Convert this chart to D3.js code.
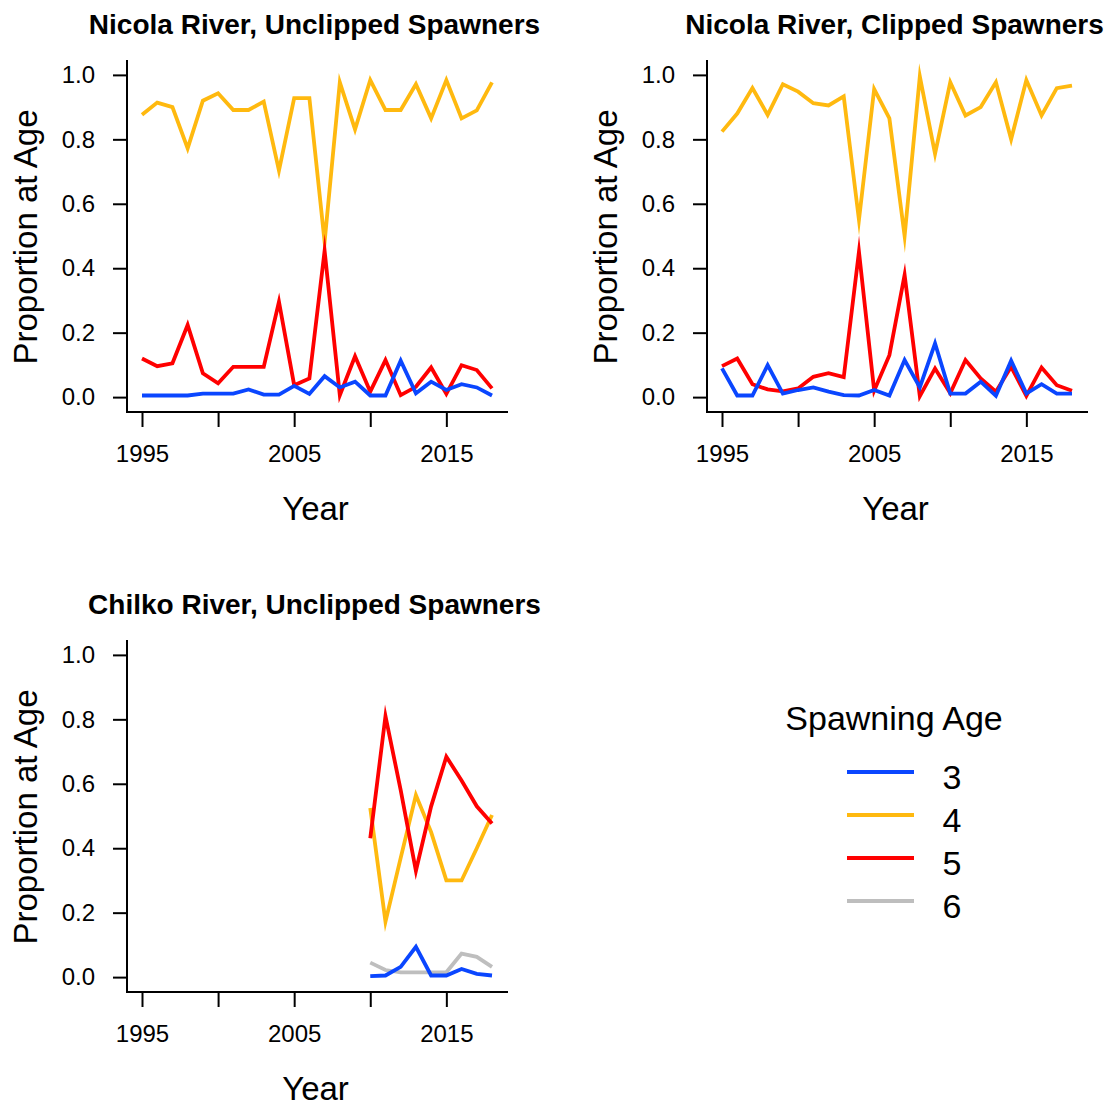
<!DOCTYPE html>
<html>
<head>
<meta charset="utf-8">
<script src="https://cdn.jsdelivr.net/npm/d3@7/dist/d3.min.js"></script>
<style>
  html, body { margin: 0; padding: 0; background: #ffffff; }
  svg { display: block; }
  text { font-family: "Liberation Sans", Arial, Helvetica, sans-serif; fill: #000; }
</style>
</head>
<body>
<svg id="chart" width="1112" height="1107"></svg>
<script>
// Nicola River, 1995–2018
const nicolaYears = d3.range(1995, 2019);
const nicolaUnclipped3 = [0.005,0.005,0.005,0.005,0.011,0.011,0.011,0.024,0.008,0.008,0.035,0.010,0.065,0.030,0.048,0.005,0.005,0.113,0.012,0.048,0.022,0.040,0.030,0.005];
const nicolaUnclipped4 = [0.876,0.914,0.900,0.772,0.920,0.943,0.891,0.891,0.917,0.703,0.928,0.928,0.482,0.977,0.831,0.984,0.891,0.891,0.971,0.865,0.984,0.865,0.890,0.977];
const nicolaUnclipped5 = [0.120,0.096,0.105,0.224,0.074,0.043,0.094,0.094,0.094,0.296,0.037,0.058,0.454,0.006,0.127,0.017,0.115,0.006,0.032,0.092,0.010,0.099,0.084,0.027];

const nicolaClipped3 = [0.089,0.005,0.005,0.099,0.011,0.022,0.030,0.017,0.006,0.005,0.022,0.005,0.115,0.030,0.167,0.011,0.011,0.048,0.004,0.113,0.011,0.040,0.011,0.011];
const nicolaClipped4 = [0.824,0.880,0.959,0.876,0.971,0.948,0.912,0.905,0.933,0.550,0.956,0.865,0.500,0.995,0.755,0.977,0.874,0.900,0.977,0.800,0.984,0.874,0.959,0.967];
const nicolaClipped5 = [0.096,0.120,0.040,0.024,0.018,0.027,0.063,0.074,0.062,0.451,0.020,0.130,0.379,0.003,0.089,0.012,0.115,0.058,0.017,0.094,0.004,0.092,0.037,0.020];

// Chilko River, 2010–2018
const chilkoYears = d3.range(2010, 2019);
const chilkoUnclipped3 = [0.003,0.005,0.032,0.094,0.005,0.005,0.025,0.010,0.005];
const chilkoUnclipped4 = [0.525,0.172,0.370,0.565,0.450,0.300,0.300,0.400,0.503];
const chilkoUnclipped5 = [0.431,0.810,0.580,0.330,0.530,0.684,0.610,0.530,0.477];
const chilkoUnclipped6 = [0.045,0.022,0.015,0.015,0.015,0.015,0.073,0.063,0.032];

const ages = ["3", "4", "5", "6"];
const ageColors = { "3": "#0a46ff", "4": "#ffb90f", "5": "#ff0000", "6": "#bebebe" };

const yTicks = [0, 0.2, 0.4, 0.6, 0.8, 1.0];
const xTicks = [1995, 2000, 2005, 2010, 2015];
const xTickLabels = { 1995: "1995", 2005: "2005", 2015: "2015" };

const panels = [
  { title: "Nicola River, Unclipped Spawners", dx: 0, dy: 0, years: nicolaYears,
    series: { "3": nicolaUnclipped3, "4": nicolaUnclipped4, "5": nicolaUnclipped5 } },
  { title: "Nicola River, Clipped Spawners", dx: 580, dy: 0, years: nicolaYears,
    series: { "3": nicolaClipped3, "4": nicolaClipped4, "5": nicolaClipped5 } },
  { title: "Chilko River, Unclipped Spawners", dx: 0, dy: 580, years: chilkoYears,
    series: { "3": chilkoUnclipped3, "4": chilkoUnclipped4, "5": chilkoUnclipped5, "6": chilkoUnclipped6 } }
];

const svg = d3.select("#chart");

// plot region (R-style 4% padding on both axes)
const plotLeft = 127, plotRight = 506, plotTop = 60, plotBottom = 412;
const x = d3.scaleLinear().domain([1995 - 0.92, 2018 + 0.92]).range([plotLeft + 1, plotRight]);
const y = d3.scaleLinear().domain([-0.04, 1.04]).range([plotBottom - 2, plotTop + 2]);

panels.forEach(p => {
  const g = svg.append("g").attr("transform", `translate(${p.dx},${p.dy})`);

  // data lines (age 3 drawn last so it sits on top)
  const order = ["6", "4", "5", "3"].filter(a => p.series[a]);
  const line = d3.line().x(d => x(d[0])).y(d => y(d[1]));
  order.forEach(a => {
    const pts = p.years.map((yr, i) => [yr, p.series[a][i]]);
    g.append("path")
      .datum(pts)
      .attr("d", line)
      .attr("fill", "none")
      .attr("stroke", ageColors[a])
      .attr("stroke-width", 3.8)
      .attr("stroke-linejoin", "miter")
      .attr("stroke-miterlimit", 10);
  });

  // L-shaped frame
  g.append("path")
    .attr("d", `M${plotLeft},${plotTop}V${plotBottom}H${plotRight + 2}`)
    .attr("fill", "none").attr("stroke", "#000").attr("stroke-width", 2);

  // y axis
  const yAxis = d3.axisLeft(y).tickValues(yTicks).tickFormat(d3.format(".1f"))
    .tickSize(14).tickPadding(18);
  const ya = g.append("g").attr("transform", `translate(${plotLeft},0)`).call(yAxis);
  ya.select(".domain").remove();
  ya.selectAll(".tick line").attr("stroke", "#000").attr("stroke-width", 2);
  ya.selectAll(".tick text").attr("font-size", 24).attr("font-family", "Liberation Sans, Arial, sans-serif");

  // x axis
  const xAxis = d3.axisBottom(x).tickValues(xTicks).tickFormat(d => xTickLabels[d] || "")
    .tickSize(15).tickPadding(18);
  const xa = g.append("g").attr("transform", `translate(0,${plotBottom})`).call(xAxis);
  xa.select(".domain").remove();
  xa.selectAll(".tick line").attr("stroke", "#000").attr("stroke-width", 2);
  xa.selectAll(".tick text").attr("font-size", 24).attr("font-family", "Liberation Sans, Arial, sans-serif");

  // titles and axis labels
  g.append("text")
    .attr("x", (plotLeft + plotRight) / 2 - 2).attr("y", 34)
    .attr("text-anchor", "middle")
    .attr("font-size", 28).attr("font-weight", "bold")
    .text(p.title);

  g.append("text")
    .attr("x", (plotLeft + plotRight) / 2 - 1).attr("y", 520)
    .attr("text-anchor", "middle")
    .attr("font-size", 33)
    .text("Year");

  g.append("text")
    .attr("transform", `translate(37,${(plotTop + plotBottom) / 2 + 1}) rotate(-90)`)
    .attr("text-anchor", "middle")
    .attr("font-size", 33)
    .text("Proportion at Age");
});

// legend
const legend = svg.append("g");
legend.append("text")
  .attr("x", 894).attr("y", 730)
  .attr("text-anchor", "middle")
  .attr("font-size", 34)
  .text("Spawning Age");

const legendY = d3.scalePoint().domain(ages).range([772, 901]);
ages.forEach(a => {
  legend.append("line")
    .attr("x1", 847).attr("x2", 914)
    .attr("y1", legendY(a)).attr("y2", legendY(a))
    .attr("stroke", ageColors[a]).attr("stroke-width", 4);
  legend.append("text")
    .attr("x", 952).attr("y", legendY(a) + 17)
    .attr("text-anchor", "middle")
    .attr("font-size", 34)
    .text(a);
});
</script>
</body>
</html>
